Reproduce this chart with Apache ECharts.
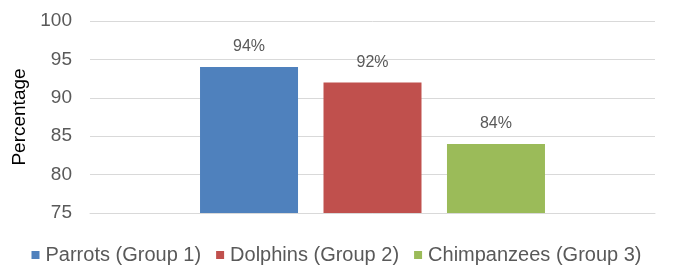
<!DOCTYPE html>
<html>
<head>
<meta charset="utf-8">
<script src="https://cdn.jsdelivr.net/npm/echarts@6/dist/echarts.min.js"></script>
<style>
  html, body { margin: 0; padding: 0; background: #fff; }
  #main { width: 673px; height: 271px; }
</style>
</head>
<body>
<div id="main"></div>
<script>
  // chart data
  var categories = ['Results'];
  var seriesNames = ['Parrots (Group 1)', 'Dolphins (Group 2)', 'Chimpanzees (Group 3)'];
  var seriesValues = [[94], [92], [84]];
  var seriesColors = ['#4f81bd', '#c0504d', '#9bbb59'];
  var yTicks = [75, 80, 85, 90, 95, 100];

  var myChart = echarts.init(document.getElementById('main'));

  var series = seriesNames.map(function (name, i) {
    return {
      name: name,
      type: 'bar',
      data: seriesValues[i],
      barWidth: 98,
      barGap: '26%',
      itemStyle: { color: seriesColors[i] },
      label: {
        show: true,
        position: 'top',
        distance: 12,
        formatter: '{c}%',
        color: '#595959',
        fontSize: 16,
        fontFamily: 'Liberation Sans'
      }
    };
  });

  myChart.setOption({
    animation: false,
    textStyle: { fontFamily: 'Liberation Sans' },
    grid: { left: 90, right: 18, top: 21, bottom: 58 },
    legend: {
      top: 245,
      left: 'center',
      padding: 0,
      itemWidth: 8,
      itemHeight: 8,
      itemGap: 15,
      icon: 'rect',
      textStyle: { color: '#595959', fontSize: 20, padding: [0, 0, 0, 1] },
      data: seriesNames
    },
    xAxis: {
      type: 'category',
      data: categories,
      axisLine: { lineStyle: { color: '#d9d9d9' } },
      axisTick: { show: false },
      axisLabel: { show: false }
    },
    yAxis: {
      type: 'value',
      min: yTicks[0],
      max: yTicks[yTicks.length - 1],
      interval: 5,
      name: 'Percentage',
      nameLocation: 'middle',
      nameGap: 57,
      nameTextStyle: { color: '#000', fontSize: 19 },
      axisLine: { show: false },
      axisTick: { show: false },
      axisLabel: { color: '#595959', fontSize: 19, margin: 18 },
      splitLine: { lineStyle: { color: '#d9d9d9' } }
    },
    series: series
  });
</script>
</body>
</html>
